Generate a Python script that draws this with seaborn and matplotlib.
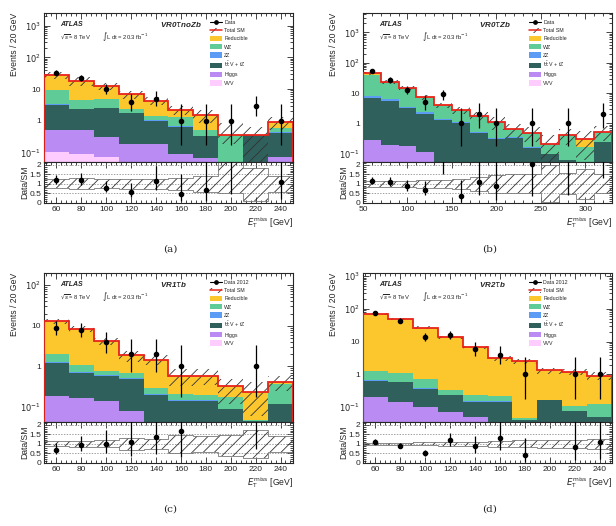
import math
import numpy as np
import pandas as pd
import matplotlib
matplotlib.use('Agg')
import matplotlib.pyplot as plt
import seaborn as sns
from matplotlib.lines import Line2D
from matplotlib.patches import Patch
from matplotlib.legend_handler import HandlerTuple
from matplotlib.ticker import LogLocator, FuncFormatter, MultipleLocator, AutoMinorLocator, NullFormatter

PROCESSES = ['Reducible', 'WZ', 'ZZ', 'ttV', 'Higgs', 'VVV']
LABELS = {
    'Reducible': 'Reducible',
    'WZ': 'WZ',
    'ZZ': 'ZZ',
    'ttV': r'$\mathrm{t\bar{t}}$ V + tZ',
    'Higgs': 'Higgs',
    'VVV': 'VVV',
}
COLOURS = {
    'Reducible': '#FCC62D',
    'WZ': '#5FCB97',
    'ZZ': '#5D9CF5',
    'ttV': '#2F605C',
    'Higgs': '#BA8BF3',
    'VVV': '#FFCCFF',
}
RED = '#E8231B'
HATCH_COL = '#333333'
HATCH = '///'

# (a) VR0 tau noZb
a_edges = [50, 70, 90, 110, 130, 150, 170, 190, 210, 230, 250]
a_reducible = [18.3, 13.4, 7.7, 4.6, 2.9, 0.93, 1.0, 0.02, 0.0, 0.33]
a_wz = [6.0, 2.1, 2.15, 0.55, 0.36, 0.6, 0.16, 0.31, 0.0, 0.14]
a_zz = [0.2, 0.1, 0.1, 0.05, 0.04, 0.02, 0.01, 0.0, 0.0, 0.01]
a_ttv = [2.6, 1.8, 2.14, 1.51, 0.81, 0.56, 0.265, 0.02, 0.35, 0.35]
a_higgs = [0.40, 0.41, 0.24, 0.15, 0.16, 0.07, 0.055, 0.01, 0.0, 0.06]
a_vvv = [0.10, 0.09, 0.07, 0.04, 0.03, 0.02, 0.01, 0.0, 0.0, 0.01]
a_data = [33, 22, 10, 4, 5, 1, 1, 1, 3, 1]
a_unc_up = [0.24, 0.30, 0.24, 0.28, 0.28, 0.33, 0.42, 1.3, 0.83, 0.43]
a_unc_dn = [0.24, 0.28, 0.24, 0.28, 0.28, 0.33, 0.42, 0.5, 0.9, 0.43]

# (b) VR0 tau Zb
b_edges = [50, 70, 90, 110, 130, 150, 170, 190, 210, 230, 250, 270, 290, 310, 330]
b_reducible = [5.0, 1.5, 0.4, 0.2, 0.1, 0.05, 0.02, 0.01, 0.01, 0.0, 0.0, 0.0, 0.14, 0.0]
b_wz = [31.8, 16.3, 10.7, 4.7, 2.4, 1.58, 1.23, 0.81, 0.28, 0.325, 0.11, 0.36, 0.11, 0.28]
b_zz = [1.4, 0.6, 0.3, 0.3, 0.1, 0.04, 0.05, 0.01, 0.01, 0.015, 0.0, 0.0, 0.0, 0.0]
b_ttv = [6.52, 5.4, 3.02, 1.89, 1.29, 1.01, 0.46, 0.30, 0.33, 0.15, 0.10, 0.06, 0.05, 0.25]
b_higgs = [0.26, 0.18, 0.17, 0.10, 0.03, 0.02, 0.02, 0.01, 0.01, 0.0, 0.0, 0.0, 0.0, 0.0]
b_vvv = [0.02, 0.02, 0.01, 0.01, 0.01, 0.0, 0.0, 0.0, 0.0, 0.0, 0.0, 0.0, 0.0, 0.0]
b_data = [53, 27, 13, 5, 9, 1, 2, 1, 0, 1, 0, 1, 0, 2]
b_unc_up = [0.15, 0.15, 0.15, 0.2, 0.2, 0.25, 0.35, 0.45, 0.5, 0.5, 1.0, 0.55, 0.8, 0.5]
b_unc_dn = [0.15, 0.15, 0.15, 0.2, 0.2, 0.25, 0.35, 0.45, 0.5, 0.5, 0.95, 0.55, 0.8, 0.5]

# (c) VR1 tau b
c_edges = [50, 70, 90, 110, 130, 150, 170, 190, 210, 230, 250]
c_reducible = [10.8, 7.3, 3.32, 1.16, 1.17, 0.38, 0.40, 0.16, 0.187, 0.04]
c_wz = [0.7, 0.38, 0.16, 0.18, 0.08, 0.06, 0.04, 0.08, 0.003, 0.24]
c_zz = [0.1, 0.04, 0.03, 0.01, 0.01, 0.01, 0.01, 0.002, 0.0, 0.0]
c_ttv = [1.02, 0.52, 0.45, 0.41, 0.18, 0.13, 0.13, 0.088, 0.045, 0.12]
c_higgs = [0.16, 0.14, 0.12, 0.07, 0.02, 0.01, 0.01, 0.0, 0.0, 0.0]
c_vvv = [0.02, 0.02, 0.02, 0.01, 0.0, 0.0, 0.0, 0.0, 0.0, 0.0]
c_data = [9, 8, 4, 2, 2, 1, 0, 0, 1, 0]
c_unc_up = [0.13, 0.17, 0.18, 0.3, 0.27, 0.45, 0.43, 0.45, 0.75, 0.4]
c_unc_dn = [0.13, 0.17, 0.18, 0.3, 0.27, 0.45, 0.43, 0.65, 0.75, 0.4]

# (d) VR2 tau b
d_edges = [50, 70, 90, 110, 130, 150, 170, 190, 210, 230, 250]
d_reducible = [68.7, 47.9, 26.3, 13.2, 6.46, 2.88, 2.455, 1.16, 1.1, 0.785]
d_wz = [0.6, 0.5, 0.34, 0.1, 0.09, 0.07, 0.005, 0.0, 0.028, 0.075]
d_zz = [0.06, 0.03, 0.02, 0.01, 0.01, 0.005, 0.0, 0.0, 0.0, 0.0]
d_ttv = [0.41, 0.43, 0.26, 0.16, 0.09, 0.125, 0.04, 0.17, 0.077, 0.05]
d_higgs = [0.17, 0.12, 0.08, 0.06, 0.04, 0.02, 0.0, 0.0, 0.0, 0.0]
d_vvv = [0.03, 0.02, 0.02, 0.01, 0.01, 0.0, 0.0, 0.0, 0.0, 0.0]
d_data = [77, 44, 14, 16, 6, 4, 1, 0, 1, 1]
d_unc_up = [0.05, 0.06, 0.08, 0.1, 0.12, 0.15, 0.18, 0.22, 0.22, 0.28]
d_unc_dn = [0.05, 0.06, 0.08, 0.1, 0.12, 0.15, 0.18, 0.22, 0.22, 0.28]

PANELS = [
    dict(tag='(a)', region=r'VR0$\tau$noZb', data_label='Data', edges=a_edges,
         stack=[a_reducible, a_wz, a_zz, a_ttv, a_higgs, a_vvv], data=a_data,
         up=a_unc_up, dn=a_unc_dn, ylim=(0.05, 2500), xmajor=20,
         col=0, row=0),
    dict(tag='(b)', region=r'VR0$\tau$Zb', data_label='Data', edges=b_edges,
         stack=[b_reducible, b_wz, b_zz, b_ttv, b_higgs, b_vvv], data=b_data,
         up=b_unc_up, dn=b_unc_dn, ylim=(0.053, 4400), xmajor=50,
         col=1, row=0),
    dict(tag='(c)', region=r'VR1$\tau$b', data_label='Data 2012', edges=c_edges,
         stack=[c_reducible, c_wz, c_zz, c_ttv, c_higgs, c_vvv], data=c_data,
         up=c_unc_up, dn=c_unc_dn, ylim=(0.042, 200), xmajor=20,
         col=0, row=1),
    dict(tag='(d)', region=r'VR2$\tau$b', data_label='Data 2012', edges=d_edges,
         stack=[d_reducible, d_wz, d_zz, d_ttv, d_higgs, d_vvv], data=d_data,
         up=d_unc_up, dn=d_unc_dn, ylim=(0.035, 1260), xmajor=20,
         col=1, row=1),
]


def poisson_cdf(k, mu):
    term = math.exp(-mu)
    total = term
    for i in range(k):
        term *= mu / (i + 1)
        total += term
    return total


def garwood(n):
    a = 0.5 * (1 - 0.6827)
    lo = 0.0
    if n > 0:
        l, h = 0.0, float(n)
        for _ in range(60):
            m = 0.5 * (l + h)
            if 1 - poisson_cdf(n - 1, m) < a:
                l = m
            else:
                h = m
        lo = 0.5 * (l + h)
    l, h = float(n), n + 10 * math.sqrt(n + 1) + 10
    for _ in range(60):
        m = 0.5 * (l + h)
        if poisson_cdf(n, m) > a:
            l = m
        else:
            h = m
    hi = 0.5 * (l + h)
    return n - lo, hi - n


def log_fmt(v, pos):
    e = int(round(np.log10(v)))
    if e == 0:
        return '1'
    if e == 1:
        return '10'
    return r'$10^{%d}$' % e


def style_axes(ax):
    ax.tick_params(which='both', direction='in', top=True, right=True, labelsize=6, width=0.6, pad=2)
    ax.tick_params(which='major', length=4)
    ax.tick_params(which='minor', length=2)
    for s in ax.spines.values():
        s.set_linewidth(0.8)


def draw_panel(fig, p):
    left = 0.0714 + p['col'] * 0.5179
    width = 0.4042
    main_bottom = 0.6920 - p['row'] * 0.4943
    main_h = 0.2833
    ratio_h = 0.0779
    ax = fig.add_axes([left, main_bottom, width, main_h])
    rax = fig.add_axes([left, main_bottom - ratio_h, width, ratio_h])

    edges = [float(e) for e in p['edges']]
    edges_arr = np.array(edges)
    centres = 0.5 * (edges_arr[1:] + edges_arr[:-1])
    rows = []
    for proc, vals in zip(PROCESSES, p['stack']):
        for c, v in zip(centres, vals):
            rows.append({'met': c, 'events': v, 'process': proc})
    df = pd.DataFrame(rows)

    ax.set_yscale('log')
    sns.histplot(data=df, x='met', weights='events', hue='process', hue_order=PROCESSES,
                 palette=COLOURS, multiple='stack', bins=edges, element='step',
                 fill=True, alpha=1, linewidth=0, legend=False, ax=ax)

    total = np.sum(np.array(p['stack']), axis=0)
    up = np.array(p['up'])
    dn = np.array(p['dn'])
    ax.stairs(total * (1 + up), edges_arr, baseline=total * (1 - dn), fill=True,
              facecolor='none', edgecolor=HATCH_COL, hatch=HATCH, linewidth=0, zorder=3)
    ax.stairs(total, edges_arr, color=RED, linewidth=1.3, zorder=4)

    data = np.array(p['data'])
    keep = data > 0
    errs = np.array([garwood(int(n)) for n in data])
    ax.errorbar(centres[keep], data[keep], yerr=[errs[keep, 0], errs[keep, 1]],
                fmt='o', ms=3, color='black', elinewidth=0.9, capsize=0, zorder=5)

    ax.set_xlim(edges[0], edges[-1])
    ax.set_ylim(*p['ylim'])
    ax.yaxis.set_major_locator(LogLocator(base=10, numticks=12))
    ax.yaxis.set_minor_locator(LogLocator(base=10, subs=np.arange(2, 10), numticks=12))
    ax.yaxis.set_major_formatter(FuncFormatter(log_fmt))
    ax.yaxis.set_minor_formatter(NullFormatter())
    ax.xaxis.set_major_locator(MultipleLocator(p['xmajor']))
    ax.xaxis.set_minor_locator(AutoMinorLocator(5))
    ax.set_xlabel('')
    ax.set_ylabel('')
    style_axes(ax)
    ax.tick_params(labelbottom=False)

    # ratio panel
    rax.stairs(1 + up, edges_arr, baseline=1 - dn, fill=True, facecolor='none',
               edgecolor=HATCH_COL, hatch=HATCH, linewidth=0, zorder=2)
    rax.stairs(1 + up, edges_arr, baseline=1 - dn, fill=False, edgecolor='#777777', linewidth=0.6, zorder=2)
    for lvl in (0.5, 1.0, 1.5, 2.0):
        rax.axhline(lvl, color='#777777', linestyle=(0, (2, 2)), linewidth=0.5, zorder=1)
    ratio = data[keep] / total[keep]
    rax.errorbar(centres[keep], ratio, yerr=[errs[keep, 0] / total[keep], errs[keep, 1] / total[keep]],
                 fmt='o', ms=3, color='black', elinewidth=0.9, capsize=0, zorder=5)
    rax.set_xlim(edges[0], edges[-1])
    rax.set_ylim(0, 2.15)
    rax.yaxis.set_major_locator(MultipleLocator(0.5))
    rax.yaxis.set_minor_locator(MultipleLocator(0.1))
    rax.yaxis.set_major_formatter(FuncFormatter(lambda v, pos: '%g' % v))
    rax.xaxis.set_major_locator(MultipleLocator(p['xmajor']))
    rax.xaxis.set_minor_locator(AutoMinorLocator(5))
    style_axes(rax)

    # labels
    fig.text(left - 0.048, main_bottom + main_h, 'Events / 20 GeV', rotation=90,
             ha='center', va='top', fontsize=6.2)
    fig.text(left - 0.031, main_bottom - ratio_h / 2, 'Data/SM', rotation=90,
             ha='center', va='center', fontsize=6.2)
    fig.text(left + width, main_bottom - ratio_h - 0.038,
             r'$E_{\mathrm{T}}^{\mathrm{miss}}$ [GeV]', ha='right', va='center', fontsize=6.2)
    fig.text(left + width * 0.5 + 0.003, main_bottom - ratio_h - 0.088, p['tag'],
             family='DejaVu Serif', ha='center', va='center', fontsize=7.5)

    ax.text(0.065, 0.925, 'ATLAS', transform=ax.transAxes, fontsize=5,
            fontweight='bold', fontstyle='italic', va='center')
    ax.text(0.065, 0.84, r'$\sqrt{s}$= 8 TeV', transform=ax.transAxes, fontsize=4.2, va='center')
    ax.text(0.235, 0.84, r'$\int$L dt = 20.3 fb$^{-1}$', transform=ax.transAxes, fontsize=4.2, va='center')
    ax.text(0.465, 0.925, p['region'], transform=ax.transAxes, fontsize=5.8,
            fontweight='bold', fontstyle='italic', va='center')

    handles = [Line2D([], [], color='black', marker='o', ms=2.4, lw=0.8),
               (Patch(facecolor='none', edgecolor=HATCH_COL, hatch=HATCH, linewidth=0),
                Line2D([], [], color=RED, lw=1.1))]
    labels = [p['data_label'], 'Total SM']
    for proc in PROCESSES:
        handles.append(Patch(facecolor=COLOURS[proc], edgecolor='none'))
        labels.append(LABELS[proc])
    ax.legend(handles, labels, loc='upper left', bbox_to_anchor=(0.665, 0.955),
              frameon=False, fontsize=3.8, handlelength=2.3, handleheight=1.2,
              handletextpad=0.5, labelspacing=0.5, borderpad=0, borderaxespad=0,
              handler_map={tuple: HandlerTuple(ndivide=1)})


sns.set_style('ticks')
plt.rcParams['font.family'] = ['Liberation Sans', 'DejaVu Sans']
plt.rcParams['mathtext.fontset'] = 'dejavusans'
plt.rcParams['hatch.linewidth'] = 0.6

fig = plt.figure(figsize=(6.16, 5.26), dpi=100)
for panel in PANELS:
    draw_panel(fig, panel)

fig.savefig('out.png', dpi=100)
